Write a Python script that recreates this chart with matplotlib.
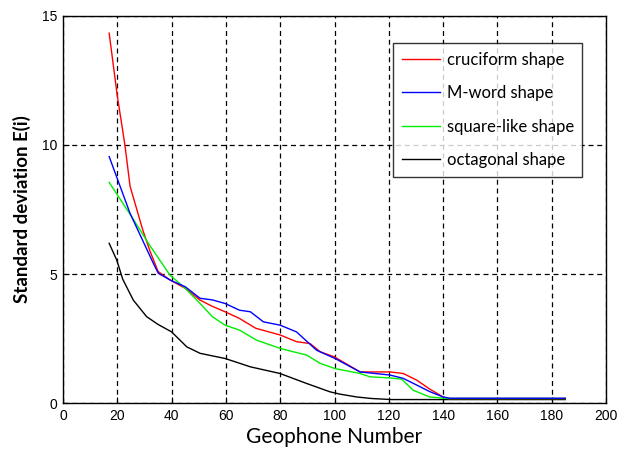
import matplotlib
matplotlib.use("Agg")
import matplotlib.pyplot as plt

# ---- data ----
cruciform_x = [17, 20, 22.8, 24.7, 29.4, 32, 35, 39.4, 45, 50.5, 55, 59.7, 65, 71, 80, 86, 91, 94.7,
               100, 109.4, 120.4, 125.3, 130.3, 135, 140, 142, 185]
cruciform_y = [14.33, 11.9, 10.0, 8.4, 6.7, 5.9, 5.1, 4.77, 4.45, 3.99, 3.75, 3.54, 3.28, 2.9, 2.64, 2.38,
               2.31, 1.99, 1.79, 1.21, 1.21, 1.15, 0.89, 0.55, 0.24, 0.18, 0.18]

mword_x = [17, 24.7, 33.3, 35.1, 40, 45, 50.5, 55, 59.7, 65, 69, 73.8, 80, 86, 93.4, 100.2, 109.4,
           120.4, 125.3, 130.3, 135, 140, 142.5, 185]
mword_y = [9.55, 7.35, 5.41, 5.03, 4.74, 4.51, 4.06, 4.0, 3.86, 3.6, 3.54, 3.15, 3.02, 2.76, 2.05, 1.73,
           1.21, 1.09, 0.96, 0.70, 0.45, 0.24, 0.19, 0.19]

square_x = [17, 25.3, 32, 39.4, 45, 50.5, 55, 59.7, 65, 71.3, 80, 89.8, 94.7, 100.2, 109.4, 113, 120,
            124.7, 129, 135, 139.5, 142, 185]
square_y = [8.55, 7.22, 6.1, 4.96, 4.45, 3.86, 3.35, 3.02, 2.83, 2.44, 2.12, 1.86, 1.54, 1.34, 1.15, 1.02,
            0.98, 0.93, 0.5, 0.24, 0.2, 0.18, 0.18]

octagonal_x = [17, 19.8, 22, 25.9, 30.8, 35, 40, 45.6, 50.5, 59.7, 65.2, 68.9, 79.9, 89.8, 98.3, 102,
               108.2, 113.7, 121, 140, 185]
octagonal_y = [6.19, 5.54, 4.8, 3.99, 3.35, 3.05, 2.76, 2.18, 1.93, 1.73, 1.54, 1.41, 1.15, 0.76, 0.44,
               0.35, 0.24, 0.18, 0.14, 0.14, 0.14]

labels = ["cruciform shape", "M-word shape", "square-like shape", "octagonal shape"]
x_ticks = list(range(0, 201, 20))
y_ticks = [0, 5, 10, 15]

fig = plt.figure(figsize=(6.3, 4.53), dpi=100)
ax = fig.add_axes([0.100, 0.110, 0.862, 0.855])

l1, = ax.plot(cruciform_x, cruciform_y, color="#ff0000", lw=1.0, zorder=4)
l2, = ax.plot(mword_x, mword_y, color="#0000ff", lw=1.0, zorder=6)
l3, = ax.plot(square_x, square_y, color="#00ee00", lw=1.0, zorder=5)
l4, = ax.plot(octagonal_x, octagonal_y, color="black", lw=1.0, zorder=3)

ax.set_xlim(0, 200)
ax.set_ylim(0, 15)
ax.set_xticks(x_ticks)
ax.set_yticks(y_ticks)
ax.grid(True, color="black", linestyle=(0, (4, 3)), linewidth=0.9)
ax.tick_params(direction="in", length=4, width=0.8, labelsize=10, pad=4)
for lab in ax.get_xticklabels() + ax.get_yticklabels():
    lab.set_fontfamily("Liberation Sans")
for s in ax.spines.values():
    s.set_linewidth(1.0)
    s.set_color("black")

ax.set_xlabel("Geophone Number", fontsize=15, fontfamily="Lato", labelpad=3)
ax.set_ylabel("Standard deviation E(i)", fontsize=13.5, fontfamily="Lato", fontweight="bold", labelpad=8)

leg = ax.legend([l1, l2, l3, l4], labels, loc="upper left", bbox_to_anchor=(0.608, 0.929),
                prop={"family": "Lato", "size": 12}, frameon=True, fancybox=False,
                handlelength=2.3, labelspacing=1.05, borderpad=0.5, handletextpad=0.4,
                borderaxespad=0)
leg.get_frame().set_edgecolor("black")
leg.get_frame().set_linewidth(1.0)
leg.set_zorder(10)

fig.savefig("out.png", dpi=100)
